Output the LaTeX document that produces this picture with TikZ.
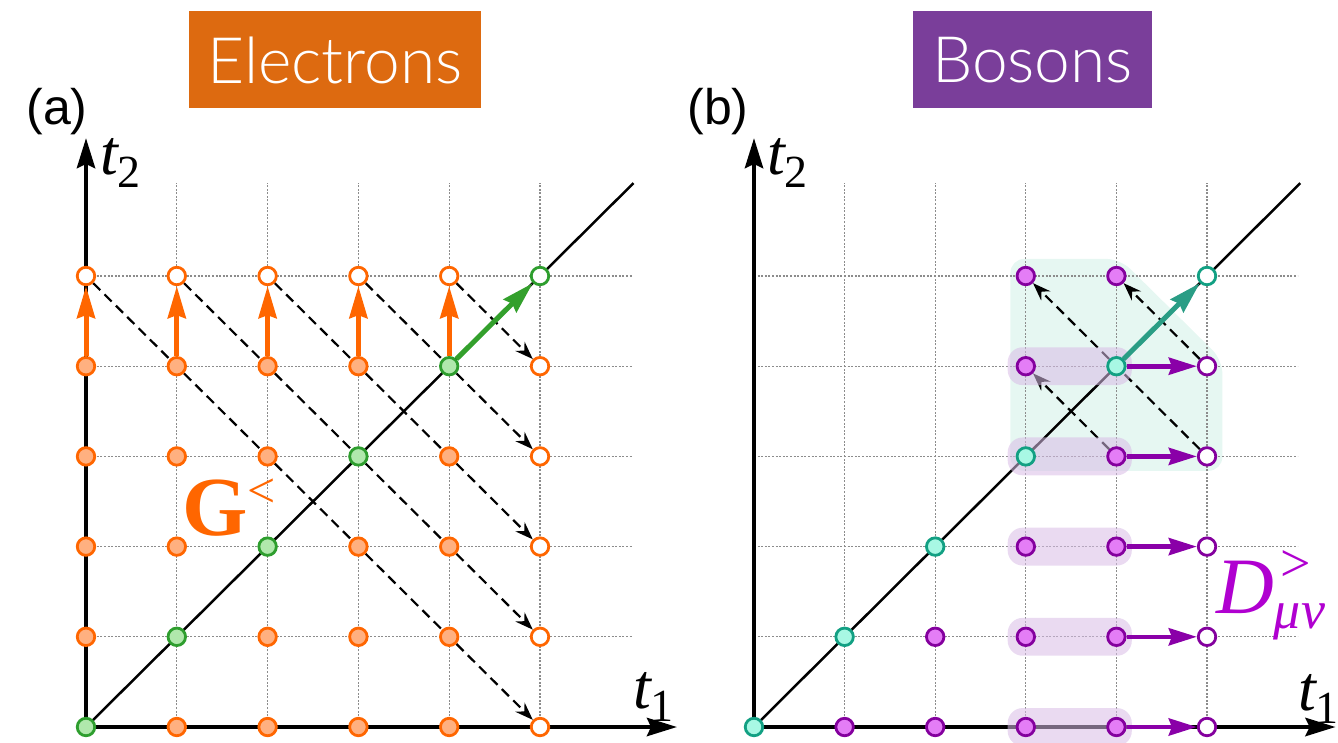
\documentclass[tikz,border=0pt]{standalone}
\usepackage{fontspec}
\setmainfont{Liberation Serif}
\newfontfamily\labelfont{Liberation Sans}
\newfontfamily\lightfont{Lato Light}
\usetikzlibrary{arrows.meta}
\pgfdeclarelayer{gridlayer}
\pgfdeclarelayer{dashlayer}
\pgfdeclarelayer{hllayer}
\pgfdeclarelayer{arrlayer}
\pgfsetlayers{gridlayer,dashlayer,hllayer,arrlayer,main}
\definecolor{eorange}{HTML}{DD6A10}
\definecolor{bpurple}{HTML}{7A3E9A}
\definecolor{oline}{HTML}{FF6600}
\definecolor{ofill}{HTML}{FFB080}
\definecolor{gline}{HTML}{2E9E2E}
\definecolor{gfill}{HTML}{B0E8AC}
\definecolor{garrowc}{HTML}{33A02C}
\definecolor{tline}{HTML}{12A083}
\definecolor{tfill}{HTML}{A8F8E4}
\definecolor{tarrowc}{HTML}{2A9D85}
\definecolor{pline}{HTML}{84009E}
\definecolor{pfill}{HTML}{E47DF6}
\definecolor{parrowc}{HTML}{8A00A8}
\definecolor{plabel}{HTML}{B000D0}
\definecolor{gridc}{HTML}{8C8C8C}
\definecolor{tregion}{HTML}{E6F7F2}
\definecolor{hlc}{HTML}{D8BCE6}
\begin{document}
\begin{tikzpicture}[x=1pt,y=-1pt,
  dot/.style={circle, inner sep=0pt, minimum size=17.5pt, line width=2.8pt},
  odot/.style={dot, draw=oline, fill=ofill},
  oopen/.style={dot, draw=oline, fill=white},
  gdot/.style={dot, draw=gline, fill=gfill},
  gopen/.style={dot, draw=gline, fill=white},
  tdot/.style={dot, draw=tline, fill=tfill},
  topen/.style={dot, draw=tline, fill=white},
  pdot/.style={dot, draw=pline, fill=pfill},
  popen/.style={dot, draw=pline, fill=white},
  gridline/.style={draw=gridc, line width=1.1pt, dash pattern=on 2pt off 1.6pt},
  diagline/.style={draw=black, line width=2.5pt},
  axisline/.style={draw=black, line width=4.8pt,
     {Stealth[length=30pt,width=18pt,inset=4pt]}-{Stealth[length=30pt,width=18pt,inset=4pt]}},
  colarrow/.style={line width=5pt, -{Stealth[length=32pt,width=18pt,inset=3pt]}},
  dasharrow/.style={draw=black, line width=2.2pt, dash pattern=on 10pt off 6pt,
     -{Stealth[length=18pt,width=13pt,inset=6pt]}},
  titlebox/.style={text=white, inner sep=0pt, minimum height=97pt,
     font=\lightfont\fontsize{64}{64}\selectfont},
  panellabel/.style={font=\labelfont\fontsize{50}{50}\selectfont, inner sep=0pt},
  hlbox/.style={fill=hlc, fill opacity=0.55, rounded corners=15pt}
]
\useasboundingbox (0,0) rectangle (1338,743);

% titles and panel labels
\node[titlebox, fill=eorange, minimum width=292pt] (etitle) at (335,60) {Electrons};
\node[titlebox, fill=bpurple, minimum width=239pt] (btitle) at (1032.5,60) {Bosons};
\node[panellabel] (la) at (57,112) {(a)};
\node[panellabel] (lb) at (718,112) {(b)};

% axis labels
\node[anchor=base west, inner sep=0pt] (t2a) at (100,175)
  {\fontsize{64}{64}\selectfont\itshape t\raisebox{-13pt}{\fontsize{46}{46}\selectfont\upshape 2}};
\node[anchor=base west, inner sep=0pt] (t1a) at (633,708)
  {\fontsize{64}{64}\selectfont\itshape t\raisebox{-13pt}{\fontsize{46}{46}\selectfont\upshape 1}};
\node[anchor=base west, inner sep=0pt] (t2b) at (767,175)
  {\fontsize{64}{64}\selectfont\itshape t\raisebox{-13pt}{\fontsize{46}{46}\selectfont\upshape 2}};
\node[anchor=base west, inner sep=0pt] (t1b) at (1298,710)
  {\fontsize{64}{64}\selectfont\itshape t\raisebox{-13pt}{\fontsize{46}{46}\selectfont\upshape 1}};

% G< and D labels
\node[anchor=base west, inner sep=0pt, text=oline] (glabel) at (182,535)
  {\fontsize{84}{84}\selectfont\bfseries G\raisebox{28pt}{\fontsize{50}{50}\selectfont\mdseries <}};
\node[anchor=base west, inner sep=0pt, text=plabel] (dlabel) at (1216,613)
  {\fontsize{80}{80}\selectfont\itshape D\rlap{\raisebox{32pt}{\fontsize{54}{54}\selectfont\upshape\hspace{7pt}>}}\raisebox{-15pt}{\fontsize{54}{54}\selectfont μν}};

% ---------------- panel (a)
\begin{scope}[shift={(86pt,-727pt)}, x=90.8pt, y=90.2pt]
  \coordinate (ao) at (0,0);
  \coordinate (ax) at (6.51,0);
  \coordinate (ay) at (0,6.53);
  \coordinate (ad) at (6.03,6.03);
  \foreach \i in {0,...,4}{\foreach \j in {0,...,4}{\ifnum\i=\j\else\node[odot] (a-\i-\j) at (\i,\j) {};\fi}}
  \foreach \i in {0,...,4}{
    \node[gdot] (a-\i-\i) at (\i,\i) {};
    \node[oopen] (a-5-\i) at (5,\i) {};
    \node[oopen] (a-\i-5) at (\i,5) {};
  }
  \node[gopen] (a-5-5) at (5,5) {};
  \begin{pgfonlayer}{gridlayer}
    \foreach \i in {1,...,5}{
      \draw[gridline] (\i,0) -- (\i,6.03);
      \draw[gridline] (0,\i) -- (6.02,\i);
    }
    \draw[diagline] (ao) -- (ad);
    \draw[axisline] (ay) -- (ao) -- (ax);
  \end{pgfonlayer}
  \begin{pgfonlayer}{dashlayer}
    \foreach \i in {0,...,4}{\draw[dasharrow] (a-\i-5) -- (a-5-\i);}
  \end{pgfonlayer}
  \begin{pgfonlayer}{arrlayer}
    \foreach \i in {0,...,4}{\draw[colarrow, draw=oline, fill=oline] (a-\i-4) -- (a-\i-5);}
    \draw[colarrow, draw=garrowc, fill=garrowc] (a-4-4) -- (a-5-5);
  \end{pgfonlayer}
\end{scope}

% ---------------- panel (b)
\begin{scope}[shift={(754pt,-727pt)}, x=90.6pt, y=90.2pt]
  \coordinate (bo) at (0,0);
  \coordinate (bx) at (6.42,0);
  \coordinate (by) at (0,6.53);
  \coordinate (bd) at (6.03,6.03);
  \foreach \i in {0,...,4}{
    \node[tdot] (b-\i-\i) at (\i,\i) {};
    \node[popen] (b-5-\i) at (5,\i) {};
  }
  \node[topen] (b-5-5) at (5,5) {};
  \foreach \i/\j in {1/0,2/0,3/0,4/0,2/1,3/1,4/1,3/2,4/2,4/3,3/4,3/5,4/5}{
    \node[pdot] (b-\i-\j) at (\i,\j) {};
  }
  \begin{pgfonlayer}{gridlayer}
    \fill[tregion, rounded corners=14pt] (2.83,2.84) -- (2.83,5.19) -- (4.04,5.19)
       -- (5.17,4.07) -- (5.17,2.84) -- cycle;
    \foreach \i in {1,...,5}{
      \draw[gridline] (\i,0) -- (\i,6.03);
      \draw[gridline] (0,\i) -- (6.0,\i);
    }
    \draw[diagline] (bo) -- (bd);
    \draw[axisline] (by) -- (bo) -- (bx);
  \end{pgfonlayer}
  \begin{pgfonlayer}{dashlayer}
    \draw[dasharrow] (b-5-4) -- (b-4-5);
    \draw[dasharrow] (b-5-3) -- (b-3-5);
    \draw[dasharrow] (b-4-3) -- (b-3-4);
  \end{pgfonlayer}
  \begin{pgfonlayer}{hllayer}
    \foreach \j in {0,...,4}{\fill[hlbox] (2.80,\j-0.21) rectangle (4.17,\j+0.21);}
  \end{pgfonlayer}
  \begin{pgfonlayer}{arrlayer}
    \foreach \j in {0,...,4}{\draw[colarrow, line width=4.6pt, draw=parrowc, fill=parrowc,
        -{Stealth[length=28pt,width=17pt,inset=3pt]}] (b-4-\j) -- (b-5-\j);}
    \draw[colarrow, draw=tarrowc, fill=tarrowc] (b-4-4) -- (b-5-5);
  \end{pgfonlayer}
\end{scope}
\end{tikzpicture}
\end{document}
